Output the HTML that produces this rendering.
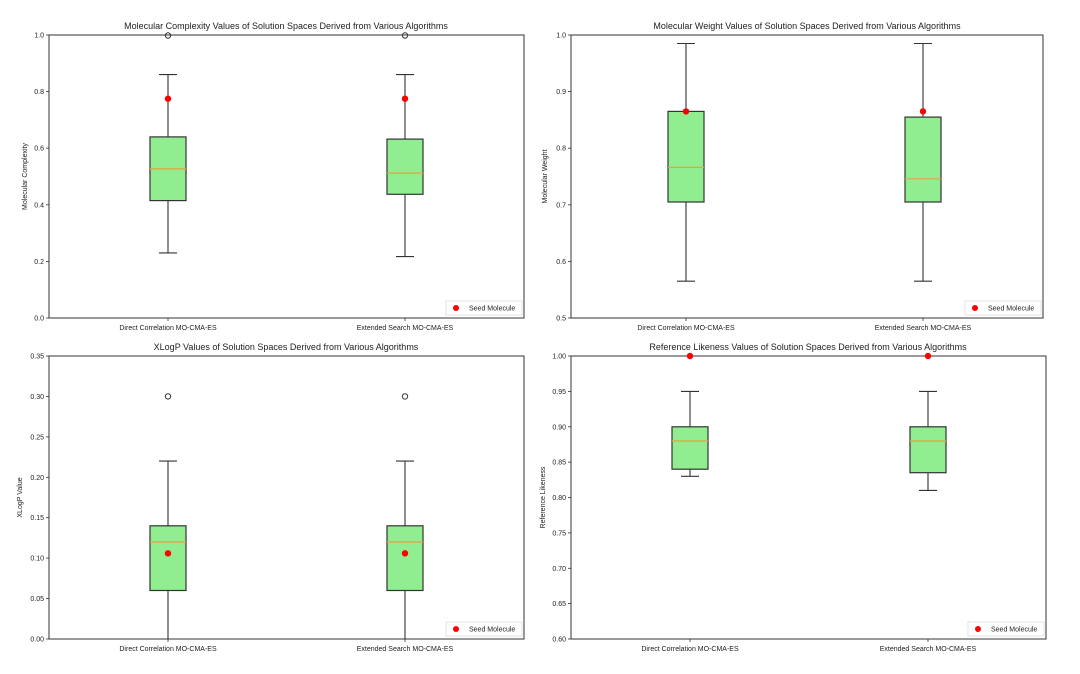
<!DOCTYPE html>
<html><head><meta charset="utf-8"><style>
html,body{margin:0;padding:0;background:#fff;}
svg text{font-family:"Liberation Sans","DejaVu Sans",sans-serif;fill:#222;}
.t{font-size:9px;text-anchor:middle}
.k{font-size:7px;text-anchor:end}
.x{font-size:7px;text-anchor:middle}
.yl{font-size:7px;text-anchor:middle}
.ax{fill:none;stroke:#333;stroke-width:1}
.bx{fill:#90ee90;stroke:#333;stroke-width:1.2}
.md{stroke:#e8a040;stroke-width:1.2}
.wh{stroke:#333;stroke-width:1.1;fill:none}
.tk{stroke:#333;stroke-width:0.8}
.lg{fill:#fff;stroke:#ddd;stroke-width:0.8}
</style></head><body>
<svg width="1080" height="669" xmlns="http://www.w3.org/2000/svg">
<!-- TL -->
<text class="t" x="286" y="29">Molecular Complexity Values of Solution Spaces Derived from Various Algorithms</text>
<rect class="ax" x="49" y="35" width="475" height="283"/>
<g class="tk"><line x1="46" x2="49" y1="318" y2="318"/><line x1="46" x2="49" y1="261.4" y2="261.4"/><line x1="46" x2="49" y1="204.8" y2="204.8"/><line x1="46" x2="49" y1="148.2" y2="148.2"/><line x1="46" x2="49" y1="91.6" y2="91.6"/><line x1="46" x2="49" y1="35" y2="35"/><line x1="168" x2="168" y1="318" y2="321"/><line x1="405" x2="405" y1="318" y2="321"/></g>
<text class="k" x="44" y="320.5">0.0</text><text class="k" x="44" y="264">0.2</text><text class="k" x="44" y="207.3">0.4</text><text class="k" x="44" y="150.7">0.6</text><text class="k" x="44" y="94.1">0.8</text><text class="k" x="44" y="37.5">1.0</text>
<text class="yl" transform="translate(27,176.5) rotate(-90)">Molecular Complexity</text>
<text class="x" x="168" y="330">Direct Correlation MO-CMA-ES</text><text class="x" x="405" y="330">Extended Search MO-CMA-ES</text>
<path class="wh" d="M168 136.9V74.6M159 74.6H177M168 200.6V252.9M159 252.9H177M405 139.1V74.6M396 74.6H414M405 194.3V256.6M396 256.6H414"/>
<rect class="bx" x="150" y="136.9" width="36" height="63.7"/><line class="md" x1="150" x2="186" y1="168.9" y2="168.9"/>
<rect class="bx" x="387" y="139.1" width="36" height="55.2"/><line class="md" x1="387" x2="423" y1="173.1" y2="173.1"/>
<circle cx="168" cy="35.5" r="2.7" fill="none" stroke="#333"/><circle cx="405" cy="35.5" r="2.7" fill="none" stroke="#333"/>
<circle cx="168" cy="98.7" r="3.2" fill="red"/><circle cx="405" cy="98.7" r="3.2" fill="red"/>
<rect class="lg" x="446" y="301" width="76" height="14"/><circle cx="456" cy="308" r="3" fill="red"/><text x="469" y="310.5" style="font-size:7px">Seed Molecule</text>
<!-- TR -->
<text class="t" x="807" y="29">Molecular Weight Values of Solution Spaces Derived from Various Algorithms</text>
<rect class="ax" x="571" y="35" width="472" height="283"/>
<g class="tk"><line x1="568" x2="571" y1="318" y2="318"/><line x1="568" x2="571" y1="261.4" y2="261.4"/><line x1="568" x2="571" y1="204.8" y2="204.8"/><line x1="568" x2="571" y1="148.2" y2="148.2"/><line x1="568" x2="571" y1="91.6" y2="91.6"/><line x1="568" x2="571" y1="35" y2="35"/><line x1="686" x2="686" y1="318" y2="321"/><line x1="923" x2="923" y1="318" y2="321"/></g>
<text class="k" x="566" y="320.5">0.5</text><text class="k" x="566" y="264">0.6</text><text class="k" x="566" y="207.3">0.7</text><text class="k" x="566" y="150.7">0.8</text><text class="k" x="566" y="94.1">0.9</text><text class="k" x="566" y="37.5">1.0</text>
<text class="yl" transform="translate(547,176.5) rotate(-90)">Molecular Weight</text>
<text class="x" x="686" y="330">Direct Correlation MO-CMA-ES</text><text class="x" x="923" y="330">Extended Search MO-CMA-ES</text>
<path class="wh" d="M686 111.4V43.5M677 43.5H695M686 202V281.2M677 281.2H695M923 117.1V43.5M914 43.5H932M923 202V281.2M914 281.2H932"/>
<rect class="bx" x="668" y="111.4" width="36" height="90.6"/><line class="md" x1="668" x2="704" y1="167.4" y2="167.4"/>
<rect class="bx" x="905" y="117.1" width="36" height="84.9"/><line class="md" x1="905" x2="941" y1="178.8" y2="178.8"/>
<circle cx="686" cy="111.4" r="3.2" fill="red"/><circle cx="923" cy="111.4" r="3.2" fill="red"/>
<rect class="lg" x="965" y="301" width="76" height="14"/><circle cx="975" cy="308" r="3" fill="red"/><text x="988" y="310.5" style="font-size:7px">Seed Molecule</text>
<!-- BL -->
<text class="t" x="286" y="350">XLogP Values of Solution Spaces Derived from Various Algorithms</text>
<rect class="ax" x="49" y="356" width="475" height="283"/>
<g class="tk"><line x1="46" x2="49" y1="639" y2="639"/><line x1="46" x2="49" y1="598.6" y2="598.6"/><line x1="46" x2="49" y1="558.1" y2="558.1"/><line x1="46" x2="49" y1="517.7" y2="517.7"/><line x1="46" x2="49" y1="477.3" y2="477.3"/><line x1="46" x2="49" y1="436.9" y2="436.9"/><line x1="46" x2="49" y1="396.4" y2="396.4"/><line x1="46" x2="49" y1="356" y2="356"/><line x1="168" x2="168" y1="639" y2="642"/><line x1="405" x2="405" y1="639" y2="642"/></g>
<text class="k" x="44" y="641.5">0.00</text><text class="k" x="44" y="601.1">0.05</text><text class="k" x="44" y="560.6">0.10</text><text class="k" x="44" y="520.2">0.15</text><text class="k" x="44" y="479.8">0.20</text><text class="k" x="44" y="439.4">0.25</text><text class="k" x="44" y="398.9">0.30</text><text class="k" x="44" y="358.5">0.35</text>
<text class="yl" transform="translate(22,497.5) rotate(-90)">XLogP Value</text>
<text class="x" x="168" y="651">Direct Correlation MO-CMA-ES</text><text class="x" x="405" y="651">Extended Search MO-CMA-ES</text>
<path class="wh" d="M168 525.8V461.1M159 461.1H177M168 590.5V639M405 525.8V461.1M396 461.1H414M405 590.5V639"/>
<rect class="bx" x="150" y="525.8" width="36" height="64.7"/><line class="md" x1="150" x2="186" y1="542" y2="542"/>
<rect class="bx" x="387" y="525.8" width="36" height="64.7"/><line class="md" x1="387" x2="423" y1="542" y2="542"/>
<circle cx="168" cy="396.4" r="2.7" fill="none" stroke="#333"/><circle cx="405" cy="396.4" r="2.7" fill="none" stroke="#333"/>
<circle cx="168" cy="553.3" r="3.2" fill="red"/><circle cx="405" cy="553.3" r="3.2" fill="red"/>
<rect class="lg" x="446" y="622" width="76" height="14"/><circle cx="456" cy="629" r="3" fill="red"/><text x="469" y="631.5" style="font-size:7px">Seed Molecule</text>
<!-- BR -->
<text class="t" x="808" y="350">Reference Likeness Values of Solution Spaces Derived from Various Algorithms</text>
<rect class="ax" x="571" y="356" width="475" height="283"/>
<g class="tk"><line x1="568" x2="571" y1="639" y2="639"/><line x1="568" x2="571" y1="603.6" y2="603.6"/><line x1="568" x2="571" y1="568.3" y2="568.3"/><line x1="568" x2="571" y1="532.9" y2="532.9"/><line x1="568" x2="571" y1="497.5" y2="497.5"/><line x1="568" x2="571" y1="462.1" y2="462.1"/><line x1="568" x2="571" y1="426.8" y2="426.8"/><line x1="568" x2="571" y1="391.4" y2="391.4"/><line x1="568" x2="571" y1="356" y2="356"/><line x1="690" x2="690" y1="639" y2="642"/><line x1="928" x2="928" y1="639" y2="642"/></g>
<text class="k" x="566" y="641.5">0.60</text><text class="k" x="566" y="606.1">0.65</text><text class="k" x="566" y="570.8">0.70</text><text class="k" x="566" y="535.4">0.75</text><text class="k" x="566" y="500">0.80</text><text class="k" x="566" y="464.6">0.85</text><text class="k" x="566" y="429.3">0.90</text><text class="k" x="566" y="393.9">0.95</text><text class="k" x="566" y="358.5">1.00</text>
<text class="yl" transform="translate(545,497.5) rotate(-90)">Reference Likeness</text>
<text class="x" x="690" y="651">Direct Correlation MO-CMA-ES</text><text class="x" x="928" y="651">Extended Search MO-CMA-ES</text>
<path class="wh" d="M690 426.8V391.4M681 391.4H699M690 469.2V476.3M681 476.3H699M928 426.8V391.4M919 391.4H937M928 472.7V490.4M919 490.4H937"/>
<rect class="bx" x="672" y="426.8" width="36" height="42.4"/><line class="md" x1="672" x2="708" y1="441" y2="441"/>
<rect class="bx" x="910" y="426.8" width="36" height="45.9"/><line class="md" x1="910" x2="946" y1="441" y2="441"/>
<circle cx="690" cy="356" r="3.2" fill="red"/><circle cx="928" cy="356" r="3.2" fill="red"/>
<rect class="lg" x="968" y="622" width="76" height="14"/><circle cx="978" cy="629" r="3" fill="red"/><text x="991" y="631.5" style="font-size:7px">Seed Molecule</text>
</svg>
</body></html>
